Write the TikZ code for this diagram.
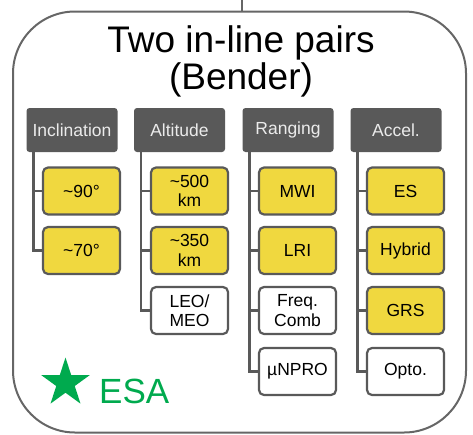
\documentclass[tikz,border=0pt]{standalone}
\usepackage{fontspec}
\setmainfont{Liberation Sans}
\usetikzlibrary{shapes.geometric}
\definecolor{hdr}{HTML}{595959}
\definecolor{frame}{HTML}{666666}
\definecolor{yel}{HTML}{F0D83F}
\definecolor{esa}{HTML}{00AA4E}
\begin{document}
\begin{tikzpicture}[x=1pt,y=-1pt,
  hdrbox/.style={fill=hdr, rounded corners=3pt, minimum width=91pt, minimum height=44pt,
    text=white!92!black, font=\fontsize{17.5}{18}\selectfont, inner sep=0pt},
  itembox/.style={draw=hdr, line width=2.2pt, rounded corners=5pt, minimum width=77pt,
    minimum height=47pt, font=\fontsize{17.5}{19.5}\selectfont, align=center, inner sep=0pt},
  selbox/.style={itembox, fill=yel},
  optbox/.style={itembox, fill=white},
  spine/.style={draw=hdr, line width=2.5pt},
  titlefont/.style={font=\fontsize{37}{38}\selectfont, inner sep=0pt, anchor=base},
]
\useasboundingbox (0,0) rectangle (473,434);
% outer frame
\node[draw=frame, line width=2pt, rounded corners=62pt, minimum width=453pt, minimum height=421pt, inner sep=0pt] (outer) at (239.5,222) {};
\coordinate (topin) at (242,0);
\draw[frame, line width=2pt] (topin) -- (topin |- outer.north);
% title
\node[titlefont] (t1) at (241,52) {Two in-line pairs};
\node[titlefont] (t2) at (241,89) {(Bender)};
% headers
\node[hdrbox] (h1) at (72,130) {Inclination};
\node[hdrbox] (h2) at (179.5,130) {Altitude};
\node[hdrbox] (h3) at (288,130) {Ranging};
\node[hdrbox] (h4) at (396,130) {Accel.};
% children
\node[selbox] (c11) at (81.5,191) {\textasciitilde90°};
\node[selbox] (c12) at (81.5,250.5) {\textasciitilde70°};
\node[selbox] (c21) at (189.5,191) {\textasciitilde500\\km};
\node[selbox] (c22) at (189.5,250.5) {\textasciitilde350\\km};
\node[optbox] (c23) at (189.5,310.5) {LEO/\\MEO};
\node[selbox] (c31) at (297.5,191) {MWI};
\node[selbox] (c32) at (297.5,250.5) {LRI};
\node[optbox] (c33) at (297.5,310.5) {Freq.\\Comb};
\node[optbox] (c34) at (297.5,371.5) {µNPRO};
\node[selbox] (c41) at (405.5,191) {ES};
\node[selbox] (c42) at (405.5,250.5) {Hybrid};
\node[selbox] (c43) at (405.5,310.5) {GRS};
\node[optbox] (c44) at (405.5,371.5) {Opto.};
% spines
\coordinate (s1) at ([xshift=7pt]h1.south west);
\coordinate (s2) at ([xshift=7pt]h2.south west);
\coordinate (s3) at ([xshift=7pt]h3.south west);
\coordinate (s4) at ([xshift=7pt]h4.south west);
\draw[spine] (s1) |- (c12.west);
\draw[spine] (c11.west -| s1) -- (c11.west);
\draw[spine] (s2) |- (c23.west);
\draw[spine] (c21.west -| s2) -- (c21.west);
\draw[spine] (c22.west -| s2) -- (c22.west);
\draw[spine] (s3) |- (c34.west);
\draw[spine] (c31.west -| s3) -- (c31.west);
\draw[spine] (c32.west -| s3) -- (c32.west);
\draw[spine] (c33.west -| s3) -- (c33.west);
\draw[spine] (s4) |- (c44.west);
\draw[spine] (c41.west -| s4) -- (c41.west);
\draw[spine] (c42.west -| s4) -- (c42.west);
\draw[spine] (c43.west -| s4) -- (c43.west);
% ESA
\node[star, star points=5, star point ratio=2.618, fill=esa, minimum size=51pt, inner sep=0pt] (star) at (65.5,383) {};
\node[text=esa, font=\fontsize{35}{36}\selectfont, inner sep=0pt, anchor=base west] (esa) at (99,403) {ESA};
\end{tikzpicture}
\end{document}
